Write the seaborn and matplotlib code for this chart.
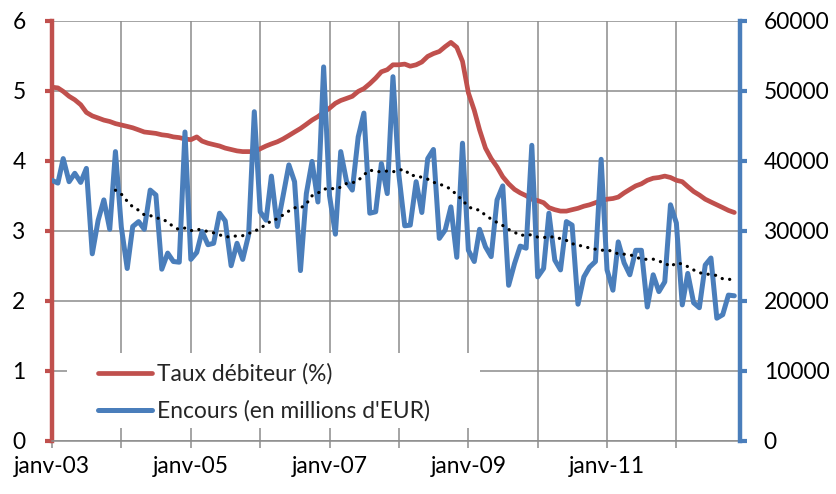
import matplotlib
matplotlib.use('Agg')
import matplotlib.pyplot as plt
import matplotlib.dates as mdates
from matplotlib.ticker import FuncFormatter, MultipleLocator
from matplotlib.patches import Rectangle
import pandas as pd
import seaborn as sns

RED = '#C0504D'
BLUE = '#4A7EBB'
GRID = '#8C8C8C'

# monthly data, janv-03 .. nov-12
months = pd.date_range('2003-01-01', periods=119, freq='MS')

taux = [5.05, 5.04, 4.99, 4.92, 4.87, 4.80, 4.69, 4.64, 4.61, 4.58, 4.56, 4.53,
        4.51, 4.49, 4.47, 4.44, 4.41, 4.40, 4.39, 4.37, 4.36, 4.34, 4.33, 4.31,
        4.30, 4.34, 4.28, 4.25, 4.23, 4.21, 4.18, 4.16, 4.14, 4.13, 4.13, 4.13,
        4.17, 4.21, 4.24, 4.27, 4.31, 4.36, 4.41, 4.46, 4.52, 4.58, 4.63, 4.69,
        4.75, 4.82, 4.86, 4.89, 4.92, 4.99, 5.03, 5.10, 5.18, 5.27, 5.30, 5.37,
        5.37, 5.38, 5.35, 5.37, 5.41, 5.49, 5.53, 5.56, 5.63, 5.69, 5.62, 5.42,
        4.97, 4.72, 4.44, 4.18, 4.03, 3.91, 3.77, 3.67, 3.59, 3.54, 3.50, 3.45,
        3.43, 3.40, 3.33, 3.30, 3.28, 3.28, 3.30, 3.32, 3.35, 3.37, 3.40, 3.43,
        3.45, 3.46, 3.48, 3.54, 3.59, 3.64, 3.67, 3.72, 3.75, 3.76, 3.78, 3.76,
        3.72, 3.70, 3.63, 3.56, 3.51, 3.45, 3.41, 3.37, 3.33, 3.29, 3.26]

encours = [37200, 36800, 40300, 37000, 38200, 36900, 38900, 26700, 31500, 34400, 30200, 41300,
           30500, 24600, 30600, 31300, 30200, 35800, 35100, 24500, 26800, 25600, 25500, 44100,
           25900, 26900, 29900, 28000, 28200, 32500, 31400, 25000, 28200, 25900, 29400, 47000,
           32700, 31500, 37800, 30600, 34900, 39400, 37000, 24300, 35300, 39900, 34100, 53400,
           35000, 29500, 41300, 37000, 35800, 43400, 46800, 32500, 32700, 39600, 35300, 52000,
           38000, 30700, 30800, 37000, 32600, 40300, 41600, 28900, 30100, 33400, 26200, 42500,
           27200, 25600, 30200, 27700, 26300, 34400, 36400, 22200, 25300, 27800, 27500, 42200,
           23400, 24600, 32500, 25800, 24400, 31300, 30800, 19500, 23400, 24800, 25600, 40200,
           24400, 21500, 28400, 25400, 23700, 27200, 27200, 19100, 23700, 21300, 22700, 33700,
           31100, 19400, 23900, 19700, 19000, 25100, 26100, 17500, 18000, 20800, 20700]

labels = ['Taux débiteur (%)', "Encours (en millions d'EUR)"]

df = pd.DataFrame({'date': months, 'taux': taux, 'encours': encours})
df['moyenne'] = df['encours'].rolling(12).mean()

sns.set_style('white')
plt.rcParams['font.family'] = ['Lato', 'DejaVu Sans']
FS = 16.4

fig = plt.figure(figsize=(8.37, 4.94), dpi=100)
ax = fig.add_axes([52/837, 1-440.7/494, 688/837, 420/494])
ax2 = ax.twinx()

sns.lineplot(data=df, x='date', y='taux', ax=ax, color=RED, linewidth=3.4,
             solid_capstyle='round', solid_joinstyle='round')
sns.lineplot(data=df, x='date', y='encours', ax=ax2, color=BLUE, linewidth=3.6,
             solid_capstyle='round', solid_joinstyle='round', zorder=3)
sns.lineplot(data=df.dropna(), x='date', y='moyenne', ax=ax2, color='black',
             linewidth=2.3, linestyle=(0, (0.05, 2.3)), dash_capstyle='round', zorder=4)

# axes ranges and ticks
ax.set_xlim(pd.Timestamp('2003-01-01'), pd.Timestamp('2012-12-01'))
ax.set_ylim(0, 6)
ax2.set_ylim(0, 60000)
ax.yaxis.set_major_locator(MultipleLocator(1))
ax2.yaxis.set_major_locator(MultipleLocator(10000))
ax2.yaxis.set_major_formatter(FuncFormatter(lambda v, p: '%d' % v))
ax.xaxis.set_major_locator(mdates.YearLocator(1))


def fmt_date(v, pos):
    d = mdates.num2date(v)
    return 'janv-%02d' % (d.year % 100) if d.year % 2 == 1 else ''


ax.xaxis.set_major_formatter(FuncFormatter(fmt_date))

for a in (ax, ax2):
    a.set_xlabel('')
    a.set_ylabel('')

ax.grid(True, color=GRID, linewidth=1.1)
ax.set_axisbelow(True)

for s in ['top', 'right']:
    ax.spines[s].set_visible(False)
for s in ['top', 'left', 'bottom']:
    ax2.spines[s].set_visible(False)
ax.spines['left'].set_color(RED)
ax.spines['left'].set_linewidth(3.2)
ax.spines['bottom'].set_color(GRID)
ax.spines['bottom'].set_linewidth(1.1)
ax2.spines['right'].set_color(BLUE)
ax2.spines['right'].set_linewidth(3.2)

ax.tick_params(axis='y', left=True, length=5, width=3, color=RED,
               labelcolor='black', labelsize=FS, pad=14)
ax.tick_params(axis='x', bottom=True, length=5, width=1.1, color=GRID,
               labelcolor='black', labelsize=FS, pad=6)
ax2.tick_params(axis='y', right=True, length=5, width=3, color=BLUE,
                labelcolor='black', labelsize=FS, pad=12)

# legend background (hides the grid behind it)
ax2.add_patch(Rectangle((0.022, 0.030), 0.60, 0.179, transform=ax2.transAxes,
                        facecolor='white', edgecolor='none', zorder=1))
handles = [ax.get_lines()[0], ax2.get_lines()[0]]
ax2.legend(handles, labels, loc='upper left', bbox_to_anchor=(0.051, 0.212),
           frameon=False, borderpad=0, handlelength=2.37, handletextpad=0.22,
           labelspacing=0.7, fontsize=FS)

fig.savefig('out.png', dpi=100)
